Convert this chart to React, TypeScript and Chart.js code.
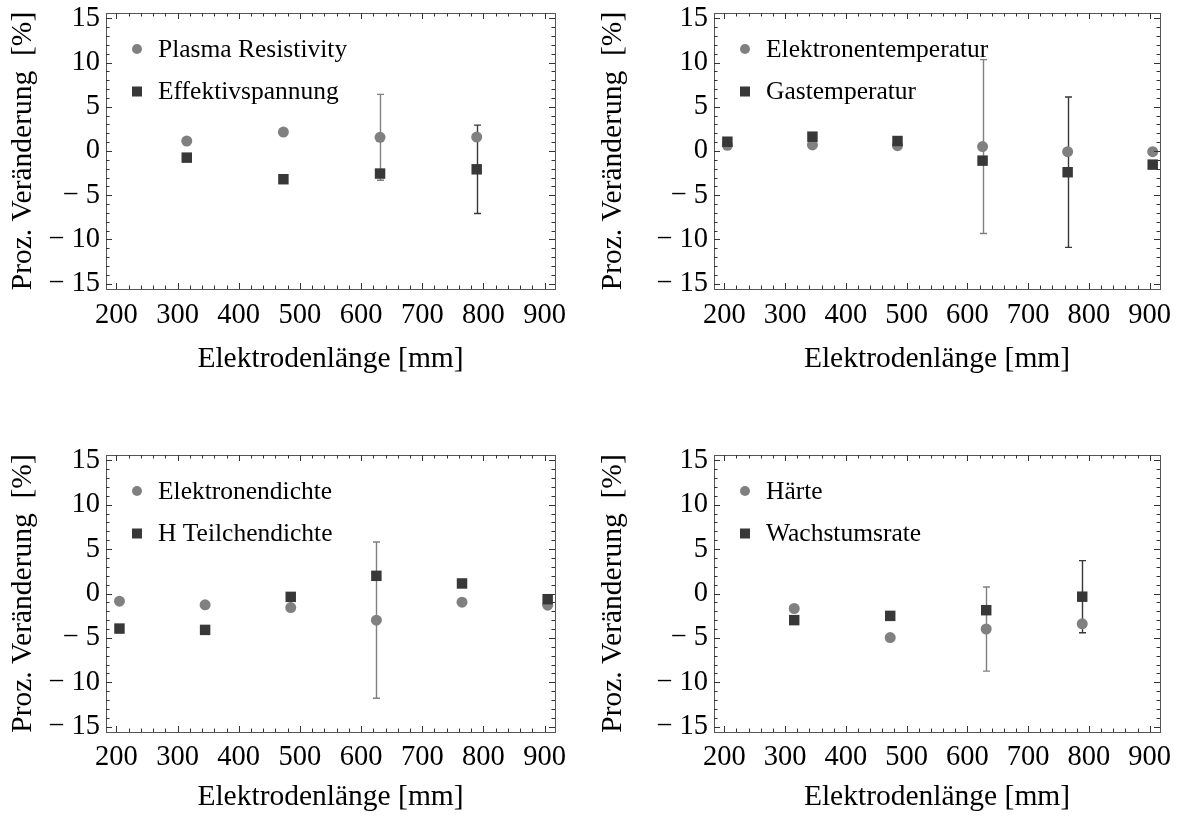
import React, { useEffect, useRef } from 'react';
import { Chart, registerables } from 'chart.js';

Chart.register(...registerables);

// ---------- data ----------
const xTickValues = [200, 300, 400, 500, 600, 700, 800, 900];
const yTickValues = [-15, -10, -5, 0, 5, 10, 15];
const xTitle = 'Elektrodenlänge [mm]';
const yTitle = 'Proz. Veränderung  [%]';

// Panel 1
const p1Lengths = [315, 473, 631, 789];
const p1PlasmaResistivity = [1.13, 2.14, 1.55, 1.58];
const p1PlasmaResistivityErr = [0, 0, 4.85, 0];
const p1Effektivspannung = [-0.75, -3.19, -2.55, -2.07];
const p1EffektivspannungErr = [0, 0, 0, 5.0];

// Panel 2
const p2Lengths = [205, 345, 485, 625, 765, 905];
const p2Elektronentemperatur = [0.65, 0.68, 0.6, 0.5, -0.08, -0.08];
const p2ElektronentemperaturErr = [0, 0, 0, 9.83, 0, 0];
const p2Gastemperatur = [1.05, 1.62, 1.13, -1.09, -2.4, -1.54];
const p2GastemperaturErr = [0, 0, 0, 0, 8.5, 0];

// Panel 3
const p3Lengths = [205, 345, 485, 625, 765, 905];
const p3Elektronendichte = [-0.86, -1.28, -1.58, -3.0, -0.98, -1.32];
const p3ElektronendichteErr = [0, 0, 0, 8.8, 0, 0];
const p3HTeilchendichte = [-3.95, -4.1, -0.38, 1.99, 1.13, -0.64];
const p3HTeilchendichteErr = [0, 0, 0, 0, 0, 0];

// Panel 4
const p4Lengths = [315, 473, 631, 789];
const p4Haerte = [-1.69, -4.96, -4.0, -3.42];
const p4HaerteErr = [0, 0, 4.74, 0];
const p4Wachstumsrate = [-3.0, -2.52, -1.88, -0.36];
const p4WachstumsrateErr = [0, 0, 0, 4.06];

// ---------- styles ----------
const FONT = '"Liberation Serif", "Times New Roman", serif';
const GRAY = '#808080';
const DARK = '#383838';
const FRAME = '#555555';
const TICK_FONT = 28.5;
const TITLE_FONT = 29.5;
const LEGEND_FONT = 25.5;
const X_MIN = 183, X_MAX = 917, Y_MIN = -15.6, Y_MAX = 15.6;

const fmt = (v: number) => (v < 0 ? '\u2212 ' + Math.abs(v) : String(v));

const framePlugin = {
  id: 'frameTicks',
  afterDatasetsDraw(chart: any) {
    const { ctx, chartArea: a, scales } = chart;
    const xs = scales.x, ys = scales.y;
    ctx.save();
    ctx.strokeStyle = FRAME;
    ctx.lineWidth = 1;
    ctx.strokeRect(Math.round(a.left) + 0.5, Math.round(a.top) + 0.5, Math.round(a.right - a.left), Math.round(a.bottom - a.top));
    ctx.strokeStyle = '#333';
    ctx.beginPath();
    for (let v = 200; v <= 900; v += 20) {
      const major = v % 100 === 0;
      const len = major ? 6 : 3.5;
      const px = Math.round(xs.getPixelForValue(v)) + 0.5;
      ctx.moveTo(px, a.bottom); ctx.lineTo(px, a.bottom - len);
      ctx.moveTo(px, a.top); ctx.lineTo(px, a.top + len);
    }
    for (let v = -15; v <= 15; v += 1) {
      const major = v % 5 === 0;
      const len = major ? 6 : 3.5;
      const py = Math.round(ys.getPixelForValue(v)) + 0.5;
      ctx.moveTo(a.left, py); ctx.lineTo(a.left + len, py);
      ctx.moveTo(a.right, py); ctx.lineTo(a.right - len, py);
    }
    ctx.stroke();
    ctx.restore();
  },
};

const errorBarPlugin = {
  id: 'errorBars',
  beforeDatasetsDraw(chart: any) {
    const { ctx, scales } = chart;
    const xs = scales.x, ys = scales.y;
    ctx.save();
    chart.data.datasets.forEach((ds: any) => {
      const errs = ds.errors || [];
      ctx.strokeStyle = ds.backgroundColor;
      ctx.lineWidth = 1.4;
      ds.data.forEach((p: any, i: number) => {
        const e = errs[i];
        if (!e) return;
        const px = Math.round(xs.getPixelForValue(p.x)) + 0.5;
        const y1 = ys.getPixelForValue(p.y + e);
        const y2 = ys.getPixelForValue(p.y - e);
        ctx.beginPath();
        ctx.moveTo(px, y1); ctx.lineTo(px, y2);
        ctx.moveTo(px - 3.5, y1); ctx.lineTo(px + 3.5, y1);
        ctx.moveTo(px - 3.5, y2); ctx.lineTo(px + 3.5, y2);
        ctx.stroke();
      });
    });
    ctx.restore();
  },
};

const legendPlugin = {
  id: 'insideLegend',
  afterDatasetsDraw(chart: any) {
    const { ctx, chartArea: a } = chart;
    ctx.save();
    ctx.font = LEGEND_FONT + 'px ' + FONT;
    ctx.textBaseline = 'middle';
    ctx.textAlign = 'left';
    chart.data.datasets.forEach((ds: any, i: number) => {
      const cx = a.left + 31;
      const cy = a.top + 36 + i * 42.5;
      ctx.fillStyle = ds.backgroundColor;
      if (ds.pointStyle === 'rect') {
        ctx.fillRect(cx - 5, cy - 5, 10, 10);
      } else {
        ctx.beginPath();
        ctx.arc(cx, cy, 5, 0, Math.PI * 2);
        ctx.fill();
      }
      ctx.fillStyle = '#000';
      ctx.fillText(ds.label, a.left + 52, cy + 1);
    });
    ctx.restore();
  },
};

type Box = {
  x0: number; y0: number; w: number; h: number;
  plotL: number; plotR: number; plotT: number; plotB: number;
  xLabelY: number; xTitleY: number; yTitleX: number;
};

type Series = {
  xs: number[];
  labelA: string; a: number[]; aErr: number[];
  labelB: string; b: number[]; bErr: number[];
};

function Panel({ box, series }: { box: Box; series: Series }) {
  const ref = useRef<HTMLCanvasElement | null>(null);
  useEffect(() => {
    if (!ref.current) return;
    const L = box.plotL - box.x0;
    const R = box.plotR - box.x0;
    const T = box.plotT - box.y0;
    const B = box.plotB - box.y0;
    const xLabel = box.xLabelY - box.y0;
    const xTitleY = box.xTitleY - box.y0;
    const yTitleX = box.yTitleX - box.x0;
    const lhTick = TICK_FONT * 1.2;
    const lhTitle = TITLE_FONT * 1.2;
    const zeroPad = (s: any) => { s.paddingLeft = 0; s.paddingRight = 0; s.paddingTop = 0; s.paddingBottom = 0; };
    const chart = new Chart(ref.current, {
      type: 'scatter',
      data: {
        datasets: [
          {
            label: series.labelA,
            data: series.xs.map((x, i) => ({ x, y: series.a[i] })),
            errors: series.aErr,
            pointStyle: 'circle', pointRadius: 5.5, pointHoverRadius: 5.5,
            backgroundColor: GRAY, borderWidth: 0, order: 2,
          } as any,
          {
            label: series.labelB,
            data: series.xs.map((x, i) => ({ x, y: series.b[i] })),
            errors: series.bErr,
            pointStyle: 'rect', pointRadius: 7.4, pointHoverRadius: 7.4,
            backgroundColor: DARK, borderWidth: 0, order: 1,
          } as any,
        ],
      },
      options: {
        responsive: false,
        animation: false,
        events: [],
        layout: { padding: { top: T, right: box.w - R, left: 0, bottom: 0 } },
        plugins: { legend: { display: false }, tooltip: { enabled: false } },
        scales: {
          x: {
            type: 'linear', position: 'bottom', min: X_MIN, max: X_MAX,
            afterBuildTicks: (s: any) => { s.ticks = xTickValues.map((v) => ({ value: v })); },
            afterFit: (s: any) => { s.height = box.h - B; zeroPad(s); },
            grid: { display: false, drawTicks: false, tickLength: 0 }, border: { display: false },
            ticks: {
              font: { family: FONT, size: TICK_FONT, lineHeight: 1.2 }, color: '#000',
              padding: xLabel - B - lhTick / 2, maxRotation: 0, minRotation: 0, autoSkip: false,
              callback: (v: any) => fmt(Number(v)),
            },
            title: {
              display: true, text: xTitle, color: '#000',
              font: { family: FONT, size: TITLE_FONT, lineHeight: 1.2 },
              padding: { top: 0, bottom: box.h - xTitleY - lhTitle / 2 },
            },
          },
          y: {
            type: 'linear', position: 'left', min: Y_MIN, max: Y_MAX,
            afterBuildTicks: (s: any) => { s.ticks = yTickValues.map((v) => ({ value: v })); },
            afterFit: (s: any) => { s.width = L; zeroPad(s); },
            grid: { display: false, drawTicks: false, tickLength: 0 }, border: { display: false },
            ticks: {
              font: { family: FONT, size: TICK_FONT, lineHeight: 1.2 }, color: '#000',
              padding: 6, autoSkip: false,
              callback: (v: any) => fmt(Number(v)),
            },
            title: {
              display: true, text: yTitle, color: '#000',
              font: { family: FONT, size: TITLE_FONT, lineHeight: 1.2 },
              padding: { top: yTitleX - lhTitle / 2, bottom: 0 },
            },
          },
        },
      } as any,
      plugins: [errorBarPlugin, framePlugin, legendPlugin],
    });
    return () => chart.destroy();
  }, []);
  return (
    <canvas
      ref={ref}
      width={box.w}
      height={box.h}
      style={{ position: 'absolute', left: box.x0, top: box.y0, width: box.w, height: box.h }}
    />
  );
}

const boxes: Box[] = [
  { x0: 0, y0: 0, w: 590, h: 409, plotL: 106, plotR: 555, plotT: 13, plotB: 289, xLabelY: 316, xTitleY: 359, yTitleX: 23 },
  { x0: 590, y0: 0, w: 589, h: 409, plotL: 714, plotR: 1160, plotT: 13, plotB: 289, xLabelY: 316, xTitleY: 359, yTitleX: 613 },
  { x0: 0, y0: 409, w: 590, h: 409, plotL: 106, plotR: 555, plotT: 455, plotB: 732, xLabelY: 758, xTitleY: 797, yTitleX: 23 },
  { x0: 590, y0: 409, w: 589, h: 409, plotL: 714, plotR: 1160, plotT: 455, plotB: 732, xLabelY: 758, xTitleY: 797, yTitleX: 613 },
];

const seriesList: Series[] = [
  { xs: p1Lengths, labelA: 'Plasma Resistivity', a: p1PlasmaResistivity, aErr: p1PlasmaResistivityErr, labelB: 'Effektivspannung', b: p1Effektivspannung, bErr: p1EffektivspannungErr },
  { xs: p2Lengths, labelA: 'Elektronentemperatur', a: p2Elektronentemperatur, aErr: p2ElektronentemperaturErr, labelB: 'Gastemperatur', b: p2Gastemperatur, bErr: p2GastemperaturErr },
  { xs: p3Lengths, labelA: 'Elektronendichte', a: p3Elektronendichte, aErr: p3ElektronendichteErr, labelB: 'H Teilchendichte', b: p3HTeilchendichte, bErr: p3HTeilchendichteErr },
  { xs: p4Lengths, labelA: 'Härte', a: p4Haerte, aErr: p4HaerteErr, labelB: 'Wachstumsrate', b: p4Wachstumsrate, bErr: p4WachstumsrateErr },
];

export default function App() {
  return (
    <div style={{ position: 'absolute', left: 0, top: 0, width: 1179, height: 818, background: '#fff' }}>
      {boxes.map((b, i) => (
        <Panel key={i} box={b} series={seriesList[i]} />
      ))}
    </div>
  );
}
